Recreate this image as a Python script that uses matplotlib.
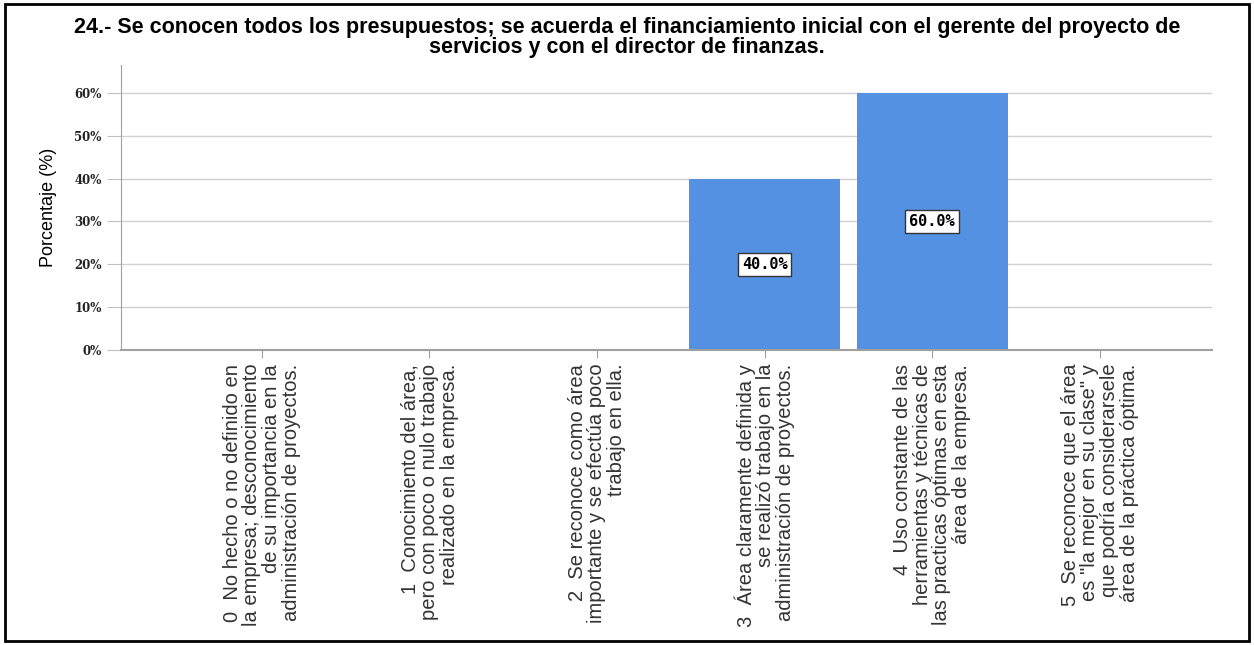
import matplotlib
matplotlib.use("Agg")
import matplotlib.pyplot as plt
from matplotlib.patches import Rectangle

# Data
title_lines = ["24.- Se conocen todos los presupuestos; se acuerda el financiamiento inicial con el gerente del proyecto de",
               "servicios y con el director de finanzas."]
categories = [
    "0  No hecho o no definido en\nla empresa; desconocimiento\nde su importancia en la\nadministración de proyectos.",
    "1  Conocimiento del área,\npero con poco o nulo trabajo\nrealizado en la empresa.",
    "2  Se reconoce como área\nimportante y se efectúa poco\ntrabajo en ella.",
    "3  Área claramente definida y\nse realizó trabajo en la\nadministración de proyectos.",
    "4  Uso constante de las\nherramientas y técnicas de\nlas practicas óptimas en esta\nárea de la empresa.",
    "5  Se reconoce que el área\nes \"la mejor en su clase\" y\nque podría considerarsele\nárea de la práctica óptima.",
]
percent = [0, 0, 0, 40.0, 60.0, 0]
yticks = [0, 10, 20, 30, 40, 50, 60]

fig = plt.figure(figsize=(12.54, 6.45), dpi=100)
ax = fig.add_axes([0.0965, 0.4574, 0.87, 0.4416])

x = list(range(len(categories)))
ax.bar(x, percent, width=0.9, color="#5591e3", zorder=2)

for xi, v in zip(x, percent):
    if v > 0:
        ax.text(xi, v / 2, f"{v:.1f}%", ha="center", va="center", fontsize=11,
                fontweight="bold", family="DejaVu Sans Mono", zorder=3,
                bbox=dict(boxstyle="square,pad=0.25", fc="white", ec="#333333", lw=1))

ax.set_xlim(-0.84, 5.67)
ax.set_ylim(0, 66.5)
ax.set_yticks(yticks)
ax.set_yticklabels([f"{t}%" for t in yticks], fontsize=8.5, fontweight="bold",
                   family="DejaVu Serif", color="#222222")
ax.yaxis.grid(True, color="#d0d0d0", lw=1, zorder=0)
ax.set_xticks(x)
ax.set_xticklabels(categories, rotation=90, ha="center", va="top",
                   multialignment="right", fontsize=14.5, family="Liberation Sans",
                   color="#333333", linespacing=1.05)
ax.tick_params(axis="y", length=10, color="#c0c0c0", pad=4)
ax.tick_params(axis="x", length=6, color="#a0a0a0", pad=4)

for s in ["top", "right"]:
    ax.spines[s].set_visible(False)
ax.spines["left"].set_color("#a0a0a0")
ax.spines["bottom"].set_color("#a0a0a0")
ax.spines["bottom"].set_linewidth(1.5)

ax.set_ylabel("Porcentaje (%)", fontsize=13, family="Liberation Sans", labelpad=12)

# title, two centred lines
for i, line in enumerate(title_lines):
    fig.text(0.5, 1 - (27 + 21 * i) / 645, line, ha="center", va="center",
             fontsize=15.5, fontweight="bold", family="Liberation Sans")

fig.patches.append(Rectangle((0.004, 0.006), 0.992, 0.988, transform=fig.transFigure,
                             fill=False, ec="black", lw=2))

fig.savefig("out.png", dpi=100)
